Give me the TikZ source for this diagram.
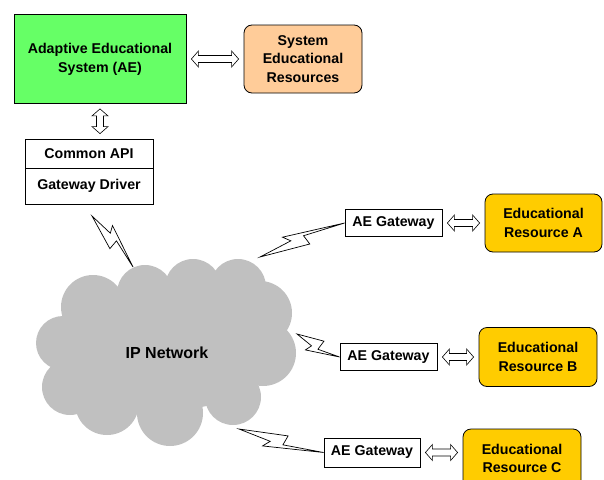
\documentclass[tikz,border=0pt]{standalone}
\usepackage{fontspec}
\setmainfont{Liberation Sans}
\usetikzlibrary{calc}

\definecolor{aegreen}{HTML}{66FF66}
\definecolor{serpeach}{HTML}{FFCC99}
\definecolor{resgold}{HTML}{FFCC00}
\definecolor{netgray}{HTML}{C0C0C0}

\tikzset{
  box/.style={draw, line width=0.8pt, inner sep=0pt, align=center,
    font=\fontsize{14.2}{18.7}\selectfont\bfseries},
  resbox/.style={box, rounded corners=8pt, fill=resgold},
  harrow/.style={draw, fill=white, line width=0.6pt, to path={
    let \p1=($(\tikztostart)!5pt!(\tikztotarget)$),
        \p2=($(\tikztotarget)!5pt!(\tikztostart)$) in
    (\p1) -- ($(\p1)!7pt!(\p2)!8pt!90:(\p2)$)
    -- ($(\p1)!7pt!(\p2)!3.5pt!90:(\p2)$)
    -- ($(\p2)!7pt!(\p1)!3.5pt!-90:(\p1)$)
    -- ($(\p2)!7pt!(\p1)!8pt!-90:(\p1)$)
    -- (\p2)
    -- ($(\p2)!7pt!(\p1)!8pt!90:(\p1)$)
    -- ($(\p2)!7pt!(\p1)!3.5pt!90:(\p1)$)
    -- ($(\p1)!7pt!(\p2)!3.5pt!-90:(\p2)$)
    -- ($(\p1)!7pt!(\p2)!8pt!-90:(\p2)$)
    -- cycle}},
  bolt/.style 2 args={draw, fill=white, line width=0.7pt, line join=miter, to path={
    -- ($(\tikztostart)!0.56!(\tikztotarget)!6.5pt!#2:(\tikztotarget)$)
    -- ($(\tikztostart)!0.53!(\tikztotarget)!3.5pt!#1:(\tikztotarget)$)
    -- (\tikztotarget)
    -- ($(\tikztostart)!0.31!(\tikztotarget)!10pt!#1:(\tikztotarget)$)
    -- ($(\tikztostart)!0.38!(\tikztotarget)!3.5pt!#1:(\tikztotarget)$)
    -- cycle}}
}

\begin{document}
\begin{tikzpicture}[x=1pt, y=-1pt]
  \useasboundingbox (0,0) rectangle (604,479);

  % the network cloud
  \fill[netgray] (167,350) ellipse [x radius=110, y radius=60];
  \foreach \cx/\cy/\r in {93/307/32, 145/293/28, 193/287/28, 238/287/28,
      260/313/32, 263/353/33, 233/397/28, 170/413/33, 107/403/32,
      70/387/28, 63/343/27}
    \fill[netgray] (\cx,\cy) circle [radius=\r];
  \node[font=\fontsize{16}{19}\selectfont\bfseries] (net) at (167,353) {IP Network};

  % system side
  \node[box, fill=aegreen, minimum width=172, minimum height=89] (ae) at (100,59)
    {Adaptive Educational\\System (AE)};
  \node[box, fill=serpeach, rounded corners=8pt, minimum width=118, minimum height=68]
    (ser) at (303,59) {System\\Educational\\Resources};
  \node[box, minimum width=128, minimum height=29] (api) at (89,153.5) {Common API};
  \node[box, minimum width=128, minimum height=36] (drv) at (89,186) {Gateway Driver};

  % gateways and resources
  \node[box, minimum width=97, minimum height=27] (gwA) at (393.5,223) {AE Gateway};
  \node[resbox, minimum width=117, minimum height=58] (resA) at (543.5,223)
    {Educational\\Resource A};
  \node[box, minimum width=97, minimum height=27] (gwB) at (388.5,357) {AE Gateway};
  \node[resbox, minimum width=118, minimum height=59] (resB) at (538,357)
    {Educational\\Resource B};
  \node[box, minimum width=96, minimum height=29] (gwC) at (372,452.5) {AE Gateway};
  \node[resbox, minimum width=118, minimum height=59] (resC) at (522,458.5)
    {Educational\\Resource C};

  \coordinate (drvtip) at (92,216);
  \coordinate (nettop) at (133,267);
  \coordinate (netA) at (260,257);
  \coordinate (netB) at (297,334);
  \coordinate (netC) at (239,429);

  % links
  \draw[harrow] (ae.east) to (ser.west);
  \draw[harrow] (ae.south) to (ae.south |- api.north);
  \draw[harrow] (gwA.east) to (resA.west);
  \draw[harrow] (gwB.east) to (resB.west);
  \draw[harrow] (gwC.east) to (gwC.east -| resC.west);

  \draw[bolt={90}{-90}] (drvtip) to (nettop);
  \draw[bolt={90}{-90}] (netA) to (gwA.west);
  \draw[bolt={-90}{90}] (netB) to (gwB.west);
  \draw[bolt={-90}{90}] (netC) to (gwC.west);
\end{tikzpicture}
\end{document}
